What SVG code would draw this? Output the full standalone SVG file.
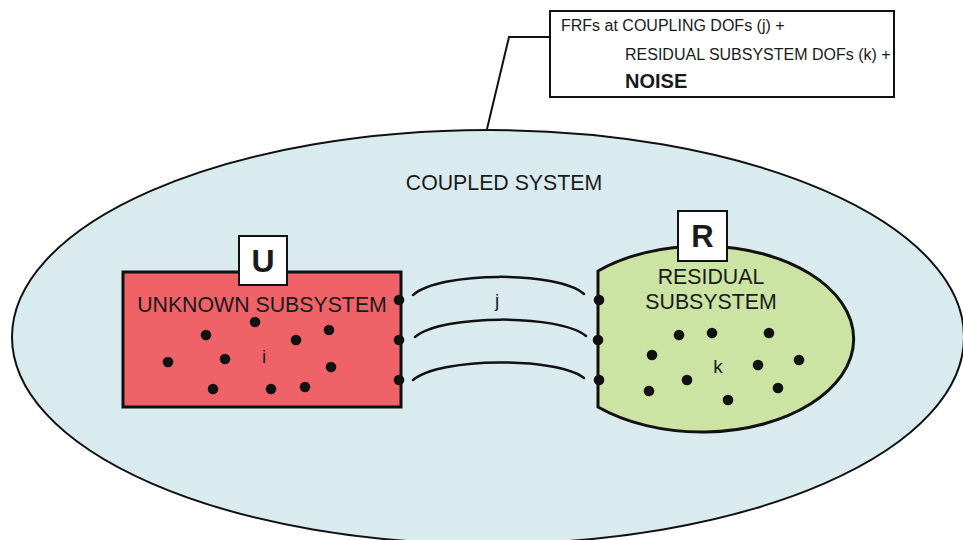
<svg xmlns="http://www.w3.org/2000/svg" width="963" height="540" viewBox="0 0 963 540">
<style>
text{font-family:"Liberation Sans",Arial,sans-serif;fill:#1a1a1a}
.lbl{font-size:21.3px}
.sm{font-size:16px}
.dot{fill:#111}
.ln{fill:none;stroke:#111;stroke-width:2.5;stroke-linecap:round}
.box{fill:#fff;stroke:#111;stroke-width:2}
</style>
<rect width="963" height="540" fill="#fff"/>
<g id="coupled-system">
<ellipse cx="488" cy="337" rx="476" ry="207" fill="#daebf0" stroke="#111" stroke-width="2"/>
<text class="lbl" x="504" y="190" text-anchor="middle">COUPLED SYSTEM</text>
</g>
<g id="callout">
<polyline points="550,37 509,37 487,129" fill="none" stroke="#111" stroke-width="2"/>
<rect class="box" x="550" y="11" width="344" height="86"/>
<text class="sm" x="561" y="31">FRFs at COUPLING DOFs (j) +</text>
<text class="sm" x="625" y="60">RESIDUAL SUBSYSTEM DOFs (k) +</text>
<text x="625" y="88" font-size="20" font-weight="bold">NOISE</text>
</g>
<g id="unknown-subsystem">
<rect x="123" y="272" width="278" height="135" fill="#ef6268" stroke="#111" stroke-width="3"/>
<rect class="box" x="239" y="236" width="48" height="49"/>
<text x="263" y="272" font-size="32" font-weight="bold" text-anchor="middle">U</text>
<text class="lbl" x="262" y="312" text-anchor="middle">UNKNOWN SUBSYSTEM</text>
<text x="264" y="363" font-size="19" text-anchor="middle">i</text>
<g class="dot">
<circle cx="206" cy="335" r="5.3"/><circle cx="255" cy="322" r="5.3"/><circle cx="296" cy="340" r="5.3"/>
<circle cx="329" cy="330" r="5.3"/><circle cx="168" cy="362" r="5.3"/><circle cx="225" cy="359" r="5.3"/>
<circle cx="331" cy="367" r="5.3"/><circle cx="213" cy="389" r="5.3"/><circle cx="271" cy="389" r="5.3"/>
<circle cx="305" cy="387" r="5.3"/>
<circle cx="399" cy="300" r="5.3"/><circle cx="399" cy="340" r="5.3"/><circle cx="399" cy="380" r="5.3"/>
</g>
</g>
<g id="residual-subsystem">
<path d="M598,271 A152,93 0 1,1 598,407 Z" fill="#cbe3a3" stroke="#111" stroke-width="3"/>
<rect class="box" x="678" y="211" width="49" height="50"/>
<text x="702.5" y="247" font-size="31" font-weight="bold" text-anchor="middle">R</text>
<text class="lbl" x="711" y="284" text-anchor="middle">RESIDUAL</text>
<text class="lbl" x="711" y="309" text-anchor="middle">SUBSYSTEM</text>
<text x="718" y="373" font-size="19" text-anchor="middle">k</text>
<g class="dot">
<circle cx="679" cy="335" r="5.3"/><circle cx="712" cy="333" r="5.3"/><circle cx="769" cy="333" r="5.3"/>
<circle cx="652" cy="355" r="5.3"/><circle cx="799" cy="360" r="5.3"/><circle cx="758" cy="365" r="5.3"/>
<circle cx="687" cy="380" r="5.3"/><circle cx="649" cy="391" r="5.3"/><circle cx="778" cy="388" r="5.3"/>
<circle cx="728" cy="400" r="5.3"/>
<circle cx="599" cy="300" r="5.3"/><circle cx="598" cy="340" r="5.3"/><circle cx="599" cy="380" r="5.3"/>
</g>
</g>
<g id="connectors">
<path class="ln" d="M413,295 C440,271 558,271 584,294"/>
<path class="ln" d="M415,337 C442,314 560,314 586,336"/>
<path class="ln" d="M413,380 C440,357 558,357 584,378"/>
<text x="497" y="307" font-size="19" text-anchor="middle">j</text>
</g>
</svg>
